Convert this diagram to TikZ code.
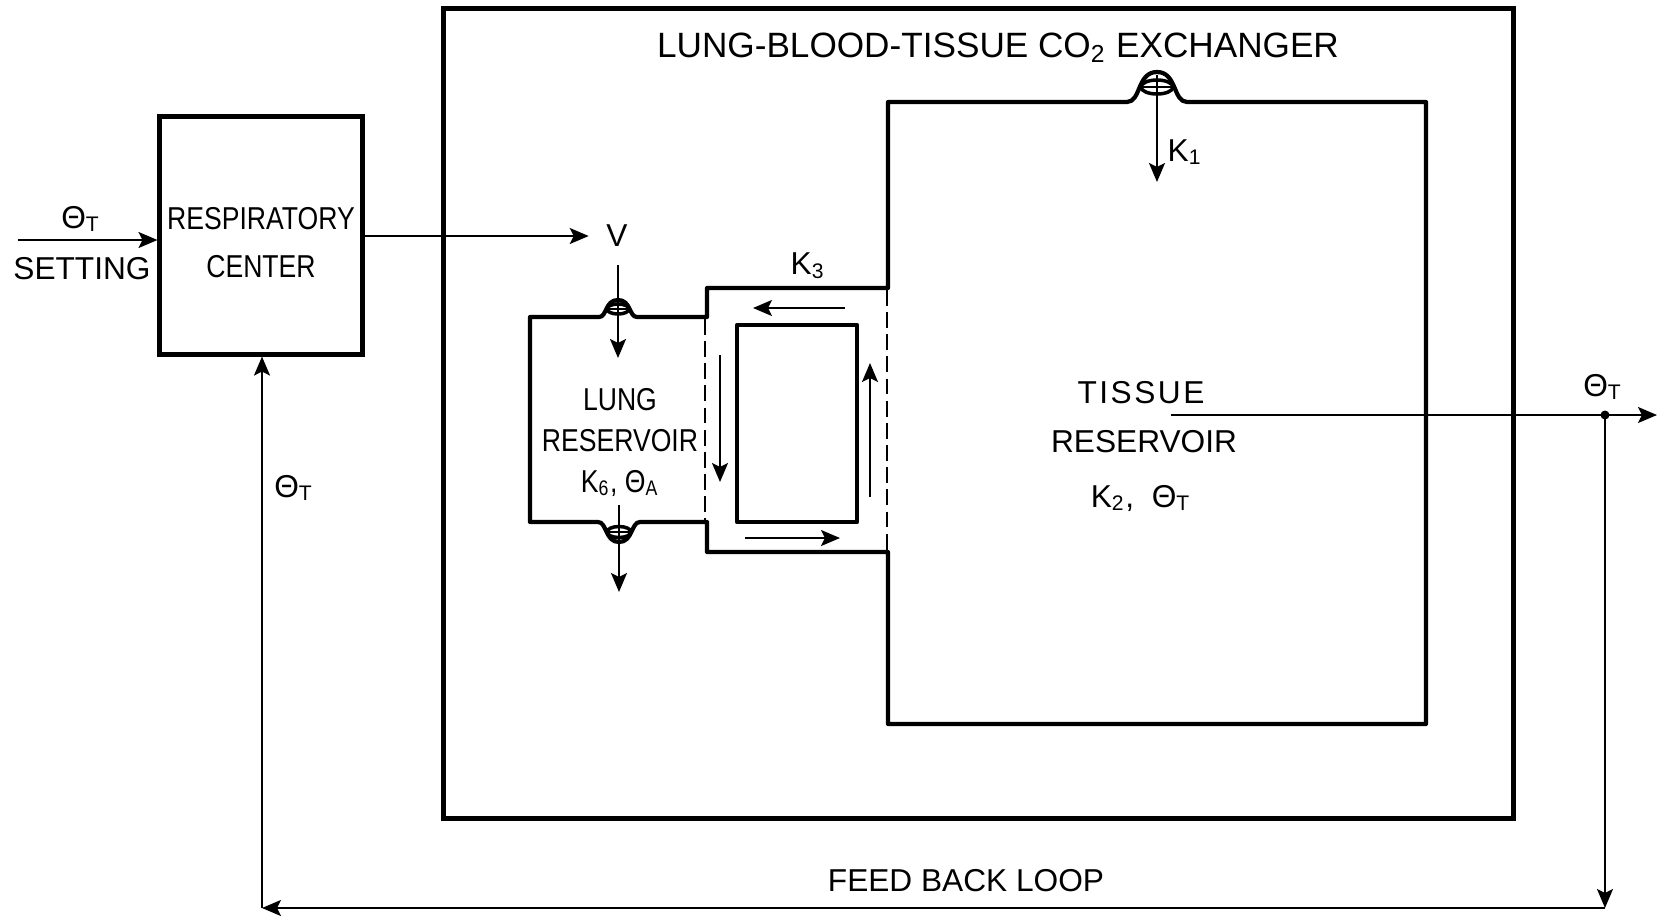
\documentclass[tikz,border=0pt]{standalone}
\usepackage{fontspec}
\setmainfont{Liberation Sans}
\newfontfamily\narrowfont[FakeStretch=0.84]{Liberation Sans}
\usetikzlibrary{arrows.meta}
\begin{document}
\begin{tikzpicture}[x=0.01cm,y=-0.01cm,
  heavy/.style={line width=1.4pt},
  wall/.style={line width=1.2pt, line join=round},
  thinline/.style={line width=0.6pt},
  arr/.style={thinline,-{Stealth[length=1.9mm,width=1.6mm,inset=0.4mm]}},
  lbl/.style={font=\fontsize{9}{11}\selectfont, inner sep=0pt},
  nlbl/.style={font=\narrowfont\fontsize{9}{11}\selectfont, inner sep=0pt},
  dashwall/.style={line width=0.8pt, dash pattern=on 4.5pt off 1.8pt}]

\useasboundingbox (0,0) rectangle (1665,920);

% respiratory center
\node[heavy, draw, minimum width=2.02cm, minimum height=2.37cm, inner sep=0pt] (rc) at (261,235.5) {};
\node[lbl, font=\narrowfont\fontsize{9}{13.7}\selectfont, align=center] (rctext) at (261,243) {RESPIRATORY\\CENTER};

% exchanger box
\node[heavy, draw, minimum width=10.69cm, minimum height=8.095cm, inner sep=0pt] (ex) at (978.5,413.25) {};
\node[lbl, font=\fontsize{10}{12}\selectfont] (title) at (998,48) {LUNG-BLOOD-TISSUE CO\textsubscript{2} EXCHANGER};

% lung / blood / tissue walls
\draw[wall] (888,288) -- (888,102) -- (1127,102)
  .. controls (1141,102) and (1137,72) .. (1157,72)
  .. controls (1177,72) and (1173,102) .. (1187,102)
  -- (1426,102) -- (1426,724) -- (888,724) -- (888,552) -- (707,552) -- (707,522) -- (640,522)
  .. controls (631,522) and (633,542) .. (619,542)
  .. controls (605,542) and (607,522) .. (598,522)
  -- (530,522) -- (530,317) -- (599,317)
  .. controls (607,317) and (605,300) .. (618,300)
  .. controls (631,300) and (629,317) .. (637,317)
  -- (707,317) -- (707,288) -- cycle;
\draw[dashwall] (705,319) -- (705,520);
\draw[dashwall] (887,290) -- (887,550);

% blood compartment
\node[wall, draw, minimum width=1.2cm, minimum height=1.97cm, inner sep=0pt] (blood) at (797,423.5) {};

% valves
\draw[line width=1pt] (1157,87) ellipse [x radius=0.16cm, y radius=0.07cm];
\draw[thinline] (1142,87) -- (1172,87);
\draw[line width=1pt] (618,309) ellipse [x radius=0.11cm, y radius=0.05cm];
\draw[thinline] (608,309) -- (628,309);
\draw[line width=1pt] (619,532) ellipse [x radius=0.12cm, y radius=0.055cm];
\draw[thinline] (608,532) -- (630,532);

% flow arrows
\coordinate (k1s) at (1157,75);
\coordinate (k1e) at (1157,182);
\draw[arr] (k1s) -- (k1e);
\node[lbl] (k1) at (1185,152) {K\textsubscript{1}};

\node[lbl] (V) at (617,236) {V};
\coordinate (vin) at (618,265);
\coordinate (vout) at (618,358);
\draw[arr] (vin) -- (vout);
\coordinate (lo1) at (619,505);
\coordinate (lo2) at (619,592);
\draw[arr] (lo1) -- (lo2);

\draw[arr] (845,308) -- (753,308);
\draw[arr] (720,355) -- (720,482);
\draw[arr] (745,538) -- (840,538);
\draw[arr] (870,497) -- (870,363);
\node[lbl] (k3) at (808,266) {K\textsubscript{3}};

% lung text
\node[nlbl] (lung1) at (620,400) {LUNG};
\node[nlbl] (lung2) at (620,441) {RESERVOIR};
\node[nlbl] (lung3) at (620,483) {K\textsubscript{6}, Θ\textsubscript{A}};

% tissue text
\node[lbl, font=\addfontfeature{LetterSpace=8}\fontsize{9}{11}\selectfont] (tis1) at (1141,393) {TISSUE};
\node[lbl] (tis2) at (1144,442) {RESERVOIR};
\node[lbl] (tis3) at (1141,498) {K\textsubscript{2},\ \ Θ\textsubscript{T}};

% input
\coordinate (inp) at (18,240);
\draw[arr] (inp) -- (inp -| rc.west);
\node[lbl] (thin) at (81,219) {Θ\textsubscript{T}};
\node[lbl] (setting) at (82,269) {SETTING};

% output of respiratory center
\draw[arr] (rc.east |- V.west) -- ([xshift=-0.17cm]V.west);

% tissue output
\coordinate (tso) at (1171,415);
\coordinate (dot) at (1605,415);
\coordinate (tend) at (1657,415);
\draw[arr] (tso) -- (tend);
\fill (dot) circle [radius=0.045cm];
\node[lbl] (thout) at (1603,387) {Θ\textsubscript{T}};

% feedback loop
\coordinate (br) at (1605,908);
\coordinate (bl) at (262,908);
\draw[arr] (dot) -- (br);
\draw[arr] (br) -- (bl);
\draw[arr] (bl) -- (bl |- rc.south);
\node[lbl] (thfb) at (294,488) {Θ\textsubscript{T}};
\node[lbl] (fbl) at (966,881) {FEED BACK LOOP};
\end{tikzpicture}
\end{document}
